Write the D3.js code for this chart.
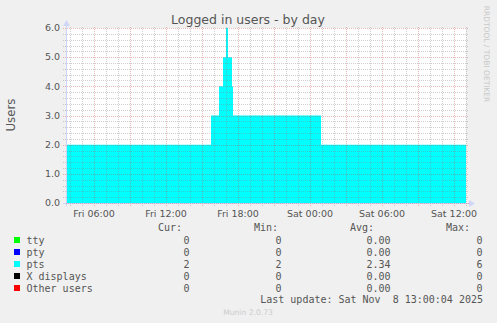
<!DOCTYPE html>
<html><head><meta charset="utf-8">
<script src="https://cdn.jsdelivr.net/npm/d3@7"></script>
<style>
html,body{margin:0;padding:0;background:#F0F0F0;}
svg{display:block;}
</style></head>
<body>
<script>
// ---- data ----
const stepTimes = ["2025-11-07T03:40","2025-11-07T15:45","2025-11-07T16:25","2025-11-07T16:45","2025-11-07T17:00","2025-11-07T17:10","2025-11-07T17:30","2025-11-07T17:35","2025-11-08T00:55","2025-11-08T13:00"];
const ptsValues = [2,3,4,5,6,5,4,3,2,2];
const xLabelTimes = ["2025-11-07T06:00","2025-11-07T12:00","2025-11-07T18:00","2025-11-08T00:00","2025-11-08T06:00","2025-11-08T12:00"];
const xLabels = ["Fri 06:00","Fri 12:00","Fri 18:00","Sat 00:00","Sat 06:00","Sat 12:00"];
const yTicks = [0,1,2,3,4,5,6];
const yTickLabels = ["0.0","1.0","2.0","3.0","4.0","5.0","6.0"];
const seriesNames = ["tty","pty","pts","X displays","Other users"];
const seriesColors = ["#00FF00","#0000FF","#00FFFF","#000000","#FF0000"];
const curVals = ["0","0","2","0","0"];
const minVals = ["0","0","2","0","0"];
const avgVals = ["0.00","0.00","2.34","0.00","0.00"];
const maxVals = ["0","0","6","0","0"];
const title = "Logged in users - by day";
const yTitle = "Users";
const lastUpdate = "Last update: Sat Nov  8 13:00:04 2025";
const footer = "Munin 2.0.73";
const sideText = "RRDTOOL / TOBI OETIKER";

// ---- layout ----
const W = 497, H = 323;
const parse = d3.timeParse("%Y-%m-%dT%H:%M");
const t0 = parse("2025-11-07T03:40"), t1 = parse("2025-11-08T13:00");
const x = d3.scaleTime().domain([t0, t1]).range([66, 466]);
const y = d3.scaleLinear().domain([0, 6]).range([203, 28]);

const svg = d3.select("body").append("svg").attr("width", W).attr("height", H);
svg.append("rect").attr("width", W).attr("height", H).attr("fill", "#F0F0F0");
svg.append("rect").attr("x", 66).attr("y", 28).attr("width", 400).attr("height", 175).attr("fill", "#FFFFFF");

// area
const pts = stepTimes.map((s, i) => ({t: parse(s), v: ptsValues[i]}));
svg.append("path").datum(pts)
  .attr("fill", "#00FFFF")
  .attr("d", d3.area().x(d => x(d.t)).y0(y(0)).y1(d => y(d.v)).curve(d3.curveStepAfter));

// grid
const g = svg.append("g").attr("shape-rendering", "crispEdges");
const minorCol = "rgba(128,128,128,0.38)", majorCol = "rgba(205,70,70,0.38)";
const hourTicks = d3.timeHour.every(1).range(t0, d3.timeMinute.offset(t1, 1));
hourTicks.forEach(t => {
  const major = t.getHours() % 3 === 0;
  const xx = Math.round(x(t)) + 0.5;
  g.append("line").attr("x1", xx).attr("x2", xx).attr("y1", 27).attr("y2", 206)
    .attr("stroke", major ? majorCol : minorCol).attr("stroke-dasharray", "1,1");
});
d3.range(0, 6.0001, 0.2).forEach(v => {
  const major = Math.abs(v - Math.round(v)) < 1e-6;
  const yy = Math.round(y(v)) + 0.5;
  g.append("line").attr("x1", 63).attr("x2", 469).attr("y1", yy).attr("y2", yy)
    .attr("stroke", major ? majorCol : minorCol).attr("stroke-dasharray", "1,1");
});

// axes
const axisCol = "#CFD6F8";
g.append("line").attr("x1", 66.5).attr("x2", 66.5).attr("y1", 24).attr("y2", 206).attr("stroke", axisCol);
g.append("line").attr("x1", 63).attr("x2", 470).attr("y1", 203.5).attr("y2", 203.5).attr("stroke", axisCol);
svg.append("path").attr("d", "M63,26 L70,26 L66.5,20 Z").attr("fill", axisCol);
svg.append("path").attr("d", "M469,200 L469,207 L475,203.5 Z").attr("fill", axisCol);
g.append("line").attr("x1", 66).attr("x2", 469).attr("y1", 203.5).attr("y2", 203.5)
  .attr("stroke", majorCol).attr("stroke-dasharray", "1,1");

const fontCol = "#555555";
// y tick labels
svg.append("g").selectAll("text").data(yTicks).join("text")
  .attr("x", 60).attr("y", d => y(d)).attr("dy", "0.35em")
  .attr("text-anchor", "end").attr("font-family", "DejaVu Sans").attr("font-size", 9.5)
  .attr("fill", fontCol).text((d, i) => yTickLabels[i]);

// x labels
svg.append("g").selectAll("text").data(xLabelTimes).join("text")
  .attr("x", d => x(parse(d))).attr("y", 216.5)
  .attr("text-anchor", "middle").attr("font-family", "DejaVu Sans").attr("font-size", 9.5)
  .attr("fill", fontCol).text((d, i) => xLabels[i]);

// title
svg.append("text").attr("x", 248).attr("y", 24).attr("text-anchor", "middle")
  .attr("font-family", "DejaVu Sans").attr("font-size", 12.5).attr("fill", fontCol).text(title);
// y title
svg.append("text").attr("transform", "translate(15,115) rotate(-90)").attr("text-anchor", "middle")
  .attr("font-family", "DejaVu Sans").attr("font-size", 11.8).attr("fill", fontCol).text(yTitle);
// side text
svg.append("text").attr("transform", "translate(484,54) rotate(90)").attr("text-anchor", "middle")
  .attr("font-family", "DejaVu Sans").attr("font-size", 7.5).attr("fill", "#C8C8C8").text(sideText);

// legend
const mono = "DejaVu Sans Mono";
const headers = [["Cur:", 182], ["Min:", 278], ["Avg:", 374], ["Max:", 470]];
headers.forEach(h => svg.append("text").attr("x", h[1]).attr("y", 231.3).attr("text-anchor", "end")
  .attr("font-family", mono).attr("font-size", 10).attr("fill", fontCol).text(h[0]));
const cols = [[curVals, 189.5], [minVals, 281.5], [avgVals, 390.5], [maxVals, 482.5]];
seriesNames.forEach((name, i) => {
  const cy = 240 + i * 12;
  svg.append("rect").attr("x", 14).attr("y", cy - 3).attr("width", 6).attr("height", 6).attr("fill", seriesColors[i]);
  svg.append("text").attr("x", 26.5).attr("y", cy + 3.5).attr("font-family", mono).attr("font-size", 10)
    .attr("fill", fontCol).text(name);
  cols.forEach(c => svg.append("text").attr("x", c[1]).attr("y", cy + 3.5).attr("text-anchor", "end")
    .attr("font-family", mono).attr("font-size", 10).attr("fill", fontCol).text(c[0][i]));
});
svg.append("text").attr("x", 483).attr("y", 303).attr("text-anchor", "end")
  .attr("font-family", mono).attr("font-size", 10).attr("fill", fontCol).attr("xml:space", "preserve")
  .style("white-space", "pre").text(lastUpdate);
svg.append("text").attr("x", 248).attr("y", 315).attr("text-anchor", "middle")
  .attr("font-family", "DejaVu Sans").attr("font-size", 7.6).attr("fill", "#CCCCCC").text(footer);
</script>
</body></html>
